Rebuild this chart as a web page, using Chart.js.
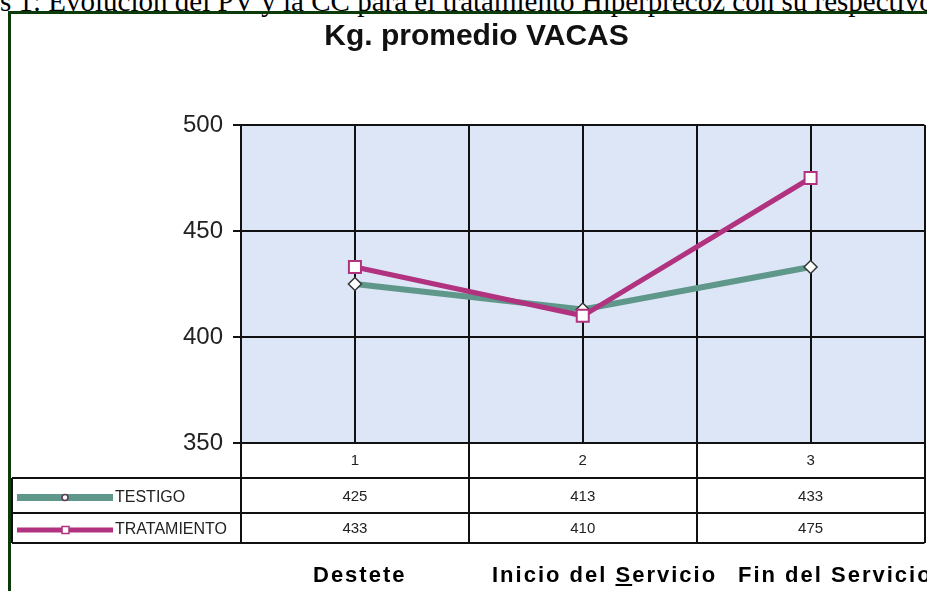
<!DOCTYPE html>
<html>
<head>
<meta charset="utf-8">
<script src="https://cdn.jsdelivr.net/npm/chart.js@4.4.0/dist/chart.umd.min.js"></script>
<style>
html, body { margin: 0; padding: 0; background: #fff; overflow: hidden; }
body { width: 927px; height: 591px; position: relative; }
#caption { position: absolute; left: 0; top: -13px; font-family: "Liberation Serif", "Times New Roman", serif; font-size: 29px; line-height: 29px; white-space: nowrap; color: #000; }
#frame { position: absolute; left: 8px; top: 11px; width: 1000px; height: 700px; border-left: 3px solid #0b3a0b; border-top: 3px solid #0b3a0b; }
#chart { position: absolute; left: 0; top: 0; }
.phase { position: absolute; top: 564px; font-family: "Liberation Sans", Arial, sans-serif; font-weight: bold; font-size: 22px; line-height: 22px; letter-spacing: 2px; white-space: nowrap; color: #000; }
</style>
</head>
<body>
<div id="caption">s 1: Evolución del PV y la CC para el tratamiento Hiperprecoz con su respectivo testigo</div>
<div id="frame"></div>
<!-- a bit wider than the window: the plot runs off the right edge like the original -->
<canvas id="chart" width="935" height="591"></canvas>
<script>
var title = "Kg. promedio VACAS";
var categories = ["1", "2", "3"];
var seriesNames = ["TESTIGO", "TRATAMIENTO"];
var testigo = [425, 413, 433];
var tratamiento = [433, 410, 475];
var yTicks = [350, 400, 450, 500];
var phases = ["Destete", "Inicio del Servicio", "Fin del Servicio"];

var TESTIGO_COLOR = "#5f988b";
var TRATAMIENTO_COLOR = "#b1327f";
var LINE_COLOR = "#111";

// fills the plot, adds the mid-category lines and the data table under the axis
var tablePlugin = {
	id: "table",
	beforeDraw: function(chart) {
		var ca = chart.chartArea;
		var ctx = chart.ctx;
		ctx.save();
		ctx.fillStyle = "#dde6f6";
		ctx.fillRect(ca.left, ca.top, ca.right - ca.left, ca.bottom - ca.top);
		ctx.restore();
	},
	beforeDatasetsDraw: function(chart) {
		var ca = chart.chartArea;
		var xs = chart.scales.x;
		var ctx = chart.ctx;
		ctx.save();
		ctx.strokeStyle = LINE_COLOR;
		ctx.lineWidth = 2;
		for (var i = 0; i < categories.length; ++i) {
			var px = Math.round(xs.getPixelForValue(i));
			ctx.beginPath();
			ctx.moveTo(px, ca.top);
			ctx.lineTo(px, ca.bottom);
			ctx.stroke();
		}
		ctx.restore();
	},
	afterDraw: function(chart) {
		var ca = chart.chartArea;
		var xs = chart.scales.x;
		var ctx = chart.ctx;
		var rows = [ca.bottom, ca.bottom + 35, ca.bottom + 70, ca.bottom + 100];
		var tableLeft = 12;

		ctx.save();
		ctx.strokeStyle = LINE_COLOR;
		ctx.lineWidth = 2;
		for (var r = 1; r < rows.length; ++r) {
			ctx.beginPath();
			ctx.moveTo(tableLeft, rows[r]);
			ctx.lineTo(ca.right, rows[r]);
			ctx.stroke();
		}
		ctx.beginPath();
		ctx.moveTo(tableLeft, rows[1]);
		ctx.lineTo(tableLeft, rows[3]);
		ctx.stroke();

		ctx.fillStyle = "#222";
		ctx.textAlign = "center";
		ctx.textBaseline = "middle";
		ctx.font = "15px 'Liberation Sans', Arial, sans-serif";
		var rowValues = [testigo, tratamiento];
		for (var i = 0; i < categories.length; ++i) {
			var px = xs.getPixelForValue(i);
			ctx.fillText(categories[i], px, (rows[0] + rows[1]) / 2);
			for (var s = 0; s < rowValues.length; ++s) {
				ctx.fillText(String(rowValues[s][i]), px, (rows[s + 1] + rows[s + 2]) / 2 + 1);
			}
		}

		// legend keys in the row headers
		for (var s = 0; s < seriesNames.length; ++s) {
			var cy = (rows[s + 1] + rows[s + 2]) / 2 + 2;
			var ds = chart.data.datasets[s];
			ctx.strokeStyle = ds.borderColor;
			ctx.lineWidth = s == 0 ? 7 : 5;
			ctx.beginPath();
			ctx.moveTo(17, cy);
			ctx.lineTo(113, cy);
			ctx.stroke();
			ctx.fillStyle = "#fff";
			ctx.lineWidth = 1.5;
			if (s == 0) {
				ctx.strokeStyle = "#5a3556";
				ctx.beginPath();
				ctx.arc(65, cy, 3, 0, Math.PI * 2);
				ctx.fill();
				ctx.stroke();
			} else {
				ctx.strokeStyle = TRATAMIENTO_COLOR;
				ctx.fillRect(62, cy - 3.5, 7, 7);
				ctx.strokeRect(62, cy - 3.5, 7, 7);
			}
			ctx.fillStyle = "#222";
			ctx.textAlign = "left";
			ctx.font = "16px 'Liberation Sans', Arial, sans-serif";
			ctx.fillText(seriesNames[s], 115, cy);
		}
		ctx.restore();
	}
};

var chart = new Chart(document.getElementById("chart").getContext("2d"), {
	type: "line",
	data: {
		labels: categories,
		datasets: [
			{
				label: seriesNames[0],
				data: testigo,
				borderColor: TESTIGO_COLOR,
				borderWidth: 6,
				pointStyle: "rectRot",
				pointRadius: 6.5,
				pointBackgroundColor: "#fff",
				pointBorderColor: "#333",
				pointBorderWidth: 1.5,
				order: 1
			},
			{
				label: seriesNames[1],
				data: tratamiento,
				borderColor: TRATAMIENTO_COLOR,
				borderWidth: 5,
				pointStyle: "rect",
				pointRadius: 8.5,
				pointBackgroundColor: "#fff",
				pointBorderColor: TRATAMIENTO_COLOR,
				pointBorderWidth: 2,
				order: 0
			}
		]
	},
	options: {
		responsive: false,
		animation: false,
		devicePixelRatio: 1,
		layout: { padding: { top: 0, left: 20, right: 2, bottom: 0 } },
		plugins: {
			legend: { display: false },
			tooltip: { enabled: false },
			title: {
				display: true,
				text: title,
				color: "#111",
				font: { family: "'Liberation Sans', Arial, sans-serif", size: 30, weight: "bold" },
				padding: { top: 19, bottom: 70 }
			}
		},
		scales: {
			x: {
				offset: true,
				ticks: { display: false },
				grid: { offset: true, color: LINE_COLOR, lineWidth: 2, tickLength: 100 },
				border: { color: LINE_COLOR, width: 2 },
				afterFit: function(scale) { scale.height = 148; }
			},
			y: {
				min: yTicks[0],
				max: yTicks[yTicks.length - 1],
				ticks: {
					stepSize: yTicks[1] - yTicks[0],
					color: "#222",
					padding: 10,
					font: { family: "'Liberation Sans', Arial, sans-serif", size: 24 }
				},
				grid: { color: LINE_COLOR, lineWidth: 2, tickLength: 8 },
				border: { color: LINE_COLOR, width: 2 },
				afterFit: function(scale) { scale.width = 221; }
			}
		}
	},
	plugins: [tablePlugin]
});

var phaseLeft = [313, 492, 738];
for (var i = 0; i < phases.length; ++i) {
	var div = document.createElement("div");
	div.className = "phase";
	div.style.left = phaseLeft[i] + "px";
	if (i == 1) {
		div.innerHTML = phases[i].replace("Servicio", "<u>S</u>ervicio");
	} else {
		div.textContent = phases[i];
	}
	document.body.appendChild(div);
}
</script>
</body>
</html>
